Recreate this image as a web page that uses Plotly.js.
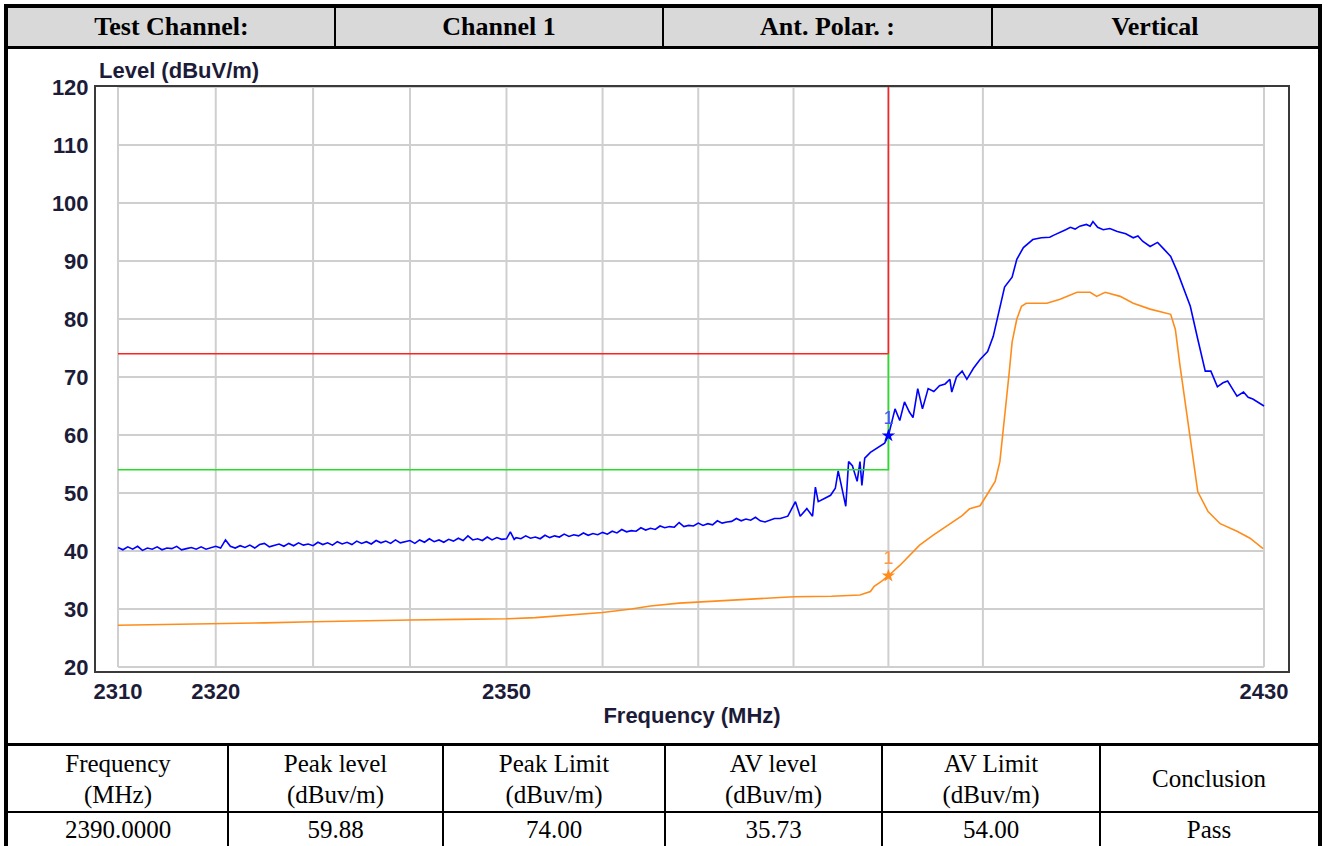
<!DOCTYPE html>
<html>
<head>
<meta charset="utf-8">
<script src="https://cdn.plot.ly/plotly-3.0.1.min.js"></script>
<style>
  html, body { margin:0; padding:0; background:#fff; width:1328px; height:846px; overflow:hidden; }
  .abs { position:absolute; box-sizing:border-box; }
  .serif { font-family:"Times New Roman","Liberation Serif",serif; color:#000; }
  .hdr { font-weight:bold; font-size:26px; display:flex; align-items:center; justify-content:center; }
  .cell { font-size:25px; display:flex; align-items:center; justify-content:center; text-align:center; line-height:31px; }
</style>
</head>
<body>
<div class="abs" style="left:4px;top:4px;width:1318px;height:860px;border:4px solid #000;"></div>
<div class="abs" style="left:8px;top:8px;width:1310px;height:38px;background:#d9d9d9;"></div>
<div class="abs" style="left:8px;top:46px;width:1310px;height:3px;background:#000;"></div>
<div id="hdrcells"></div>
<div id="chart" class="abs" style="left:8px;top:49px;width:1310px;height:694px;"></div>
<div class="abs" style="left:8px;top:743px;width:1310px;height:3px;background:#000;"></div>
<div class="abs" style="left:8px;top:811px;width:1310px;height:2px;background:#000;"></div>
<div id="tblcells"></div>
<script>
// ---------------- header / table text ----------------
const headerTexts = ["Test Channel:", "Channel 1", "Ant. Polar. :", "Vertical"];
const headerEdges = [8, 335, 663, 992, 1318];
const tableHeads = ["Frequency<br>(MHz)", "Peak level<br>(dBuv/m)", "Peak Limit<br>(dBuv/m)", "AV level<br>(dBuv/m)", "AV Limit<br>(dBuv/m)", "Conclusion"];
const tableValues = ["2390.0000", "59.88", "74.00", "35.73", "54.00", "Pass"];
const tableEdges = [8, 228, 443, 665, 882, 1100, 1318];

// ---------------- chart data ----------------
const peakFreq = [2310,2310.5,2311,2311.5,2312,2312.5,2313,2313.5,2314,2314.5,2315,2315.5,2316,2316.5,2317,2317.5,2318,2318.5,2319,2319.5,
  2320,2320.5,2321,2321.5,2322,2322.5,2323,2323.5,2324,2324.5,2325,2325.5,2326,2326.5,2327,2327.5,2328,2328.5,2329,2329.5,
  2330,2330.5,2331,2331.5,2332,2332.5,2333,2333.5,2334,2334.5,2335,2335.5,2336,2336.5,2337,2337.5,2338,2338.5,2339,2339.5,
  2340,2340.5,2341,2341.5,2342,2342.5,2343,2343.5,2344,2344.5,2345,2345.5,2346,2346.5,2347,2347.5,2348,2348.5,2349,2349.5,
  2350,2350.4,2350.8,2351,2351.5,2352,2352.5,2353,2353.5,2354,2354.5,2355,2355.5,2356,2356.5,2357,2357.5,2358,2358.5,2359,2359.5,
  2360,2360.5,2361,2361.5,2362,2362.5,2363,2363.5,2364,2364.5,2365,2365.5,2366,2366.5,2367,2367.5,2368,2368.5,2369,2369.5,
  2370,2370.5,2371,2371.5,2372,2372.5,2373,2373.5,2374,2374.5,2375,2375.5,2376,2376.5,2377,2377.5,2378,
  2378.6,2379.4,2380.2,2380.7,2381.4,2382.0,2382.3,2382.6,2383.2,2383.9,
  2384.4,2384.7,2385.1,2385.5,2385.8,2386.2,2386.7,2387.0,2387.2,2387.5,2388.1,2388.6,2389.1,2389.6,2390.0,2390.7,2391.2,2391.7,
  2392.2,2392.6,2393.1,2393.6,2394.2,2394.8,2395.4,2396.0,2396.5,2396.7,2397.2,2397.8,2398.3,2399.0,2399.7,2400.5,
  2401.1,2401.6,2402.3,2403.1,2403.6,2404.3,2405.3,2406.2,2407.1,2407.6,2408.2,2408.8,2409.3,2409.8,2410.3,2411.0,2411.4,2411.7,2412.2,2412.8,
  2413.5,2414.3,2415.2,2416.0,2416.5,2417.0,2417.8,2418.6,2419.3,2420.0,2420.7,2421.4,2422.1,2422.9,2423.7,2424.3,2425.0,
  2425.6,2426.1,2426.6,2427.1,2427.8,2428.3,2428.8,2429.4,2430];
const peakLevel = [40.6,40.2,40.7,40.3,40.8,40.1,40.5,40.3,40.7,40.2,40.5,40.4,40.8,40.2,40.4,40.6,40.3,40.7,40.3,40.6,
  40.8,40.5,41.9,40.8,40.5,40.9,40.6,41.0,40.5,41.1,41.3,40.7,40.9,41.2,40.8,41.3,40.9,41.4,41.0,41.2,
  40.9,41.5,41.1,41.4,41.0,41.6,41.2,41.5,41.1,41.7,41.3,41.6,41.2,41.8,41.4,41.7,41.3,41.9,41.4,41.6,
  41.8,41.3,41.9,41.5,42.1,41.6,41.9,41.5,42.0,41.7,42.2,41.8,42.6,41.9,42.1,41.8,42.4,41.9,42.3,42.0,
  42.1,43.3,42.0,42.3,42.1,42.6,42.2,42.4,42.1,42.7,42.3,42.6,42.4,42.9,42.5,42.8,42.6,43.1,42.7,43.0,42.8,
  43.2,42.9,43.4,43.1,43.7,43.3,43.5,43.4,44.0,43.6,43.9,43.7,44.3,44.0,44.2,44.1,44.9,44.2,44.4,44.3,
  44.8,44.4,44.7,44.5,45.2,44.8,45.0,45.1,45.6,45.2,45.5,45.3,45.8,45.2,45.0,45.3,45.6,
  45.6,46.0,48.5,46.0,47.3,46.0,51.0,48.5,49.0,49.6,
  50.8,53.8,50.8,47.7,55.4,54.7,52.0,55.4,51.3,56.0,57.0,57.5,58.0,58.6,59.88,64.5,62.5,65.7,
  64.0,63.0,68.0,64.5,68.0,67.5,68.5,68.8,69.6,67.4,70.0,71.0,69.6,71.5,73.0,74.4,
  77.0,80.5,85.5,87.2,90.3,92.3,93.7,94.0,94.1,94.5,94.9,95.4,95.8,95.5,96.0,96.3,96.0,96.8,95.8,95.4,
  95.6,95.1,94.7,94.0,94.3,93.4,92.5,93.2,92.0,90.8,88.2,85.1,82.2,76.5,71.0,71.0,68.3,
  69.0,69.3,68.0,66.7,67.4,66.5,66.2,65.6,65.0];

const avgFreq = [2310,2315,2320,2325,2330,2335,2340,2345,2350,2353,2356,2360,2363,2365,2368,2370,2373,2376,2380,2384,
  2387,2388.1,2388.5,2389.3,2390,2391.2,2393.3,2394.7,2396.2,2397.8,2398.6,2399.7,2400.4,2401.3,2401.8,2402.1,2402.5,2402.8,
  2403.1,2403.6,2404.1,2404.6,2406.8,2408.2,2410.0,2411.4,2412.1,2413.0,2414.6,2416.0,2417.8,2420.0,2420.5,2421.0,
  2421.6,2422.1,2422.9,2424.0,2425.3,2427.1,2428.5,2429.9];
const avgLevel = [27.2,27.3,27.5,27.6,27.8,28.0,28.1,28.2,28.3,28.5,28.9,29.4,30.0,30.5,31.0,31.2,31.5,31.8,32.1,32.2,
  32.4,33.0,33.9,34.8,35.73,37.5,41.0,42.7,44.4,46.1,47.3,47.8,49.6,52.0,55.4,60.5,66.2,70.9,
  76.0,80.0,82.2,82.7,82.7,83.4,84.6,84.6,83.9,84.6,83.9,82.7,81.7,80.8,78.2,71.9,
  65.0,59.3,50.2,46.8,44.7,43.4,42.2,40.4];

const limitFreq = [2310, 2390, 2390];
const peakLimit = [74, 74, 120];
const avLimit = [54, 54, 74];

const markerFreq = [2390];
const markerPeak = [59.88];
const markerAv = [35.73];
const markerText = ["1"];

const gridFreq = [2310,2320,2330,2340,2350,2360,2370,2380,2390,2400,2430];
const gridLevel = [20,30,40,50,60,70,80,90,100,110,120];
const xTickVals = [2310, 2320, 2350, 2430];
const xTickText = ["2310", "2320", "2350", "2430"];
const yTickVals = [20,30,40,50,60,70,80,90,100,110,120];

// ---------------- build tables ----------------
(function(){
  let h = "";
  for (let i = 0; i < headerTexts.length; i++) {
    const l = headerEdges[i], r = headerEdges[i+1];
    h += `<div class="abs serif hdr" style="left:${l}px;top:8px;width:${r-l}px;height:38px;">${headerTexts[i]}</div>`;
    if (i > 0) h += `<div class="abs" style="left:${l-1}px;top:8px;width:2px;height:38px;background:#000;"></div>`;
  }
  document.getElementById("hdrcells").innerHTML = h;
  let t = "";
  for (let i = 0; i < tableHeads.length; i++) {
    const l = tableEdges[i], r = tableEdges[i+1];
    t += `<div class="abs serif cell" style="left:${l}px;top:746px;width:${r-l}px;height:65px;">${tableHeads[i]}</div>`;
    t += `<div class="abs serif cell" style="left:${l}px;top:813px;width:${r-l}px;height:33px;">${tableValues[i]}</div>`;
    if (i > 0) t += `<div class="abs" style="left:${l-1}px;top:746px;width:2px;height:110px;background:#000;"></div>`;
  }
  document.getElementById("tblcells").innerHTML = t;
})();

// ---------------- chart ----------------
const fnt = {family:"Arial, 'Liberation Sans', sans-serif", size:22, color:"#1c1c38", weight:"bold"};
const lo = Math.log10(gridFreq[0]), hi = Math.log10(gridFreq[gridFreq.length-1]);
const dataPx = 1146, padL = 22, padR = 24;
const perPx = (hi - lo) / dataPx;
const xRange = [lo - padL*perPx, hi + padR*perPx];

const shapes = [];
gridFreq.forEach(f => shapes.push({type:"line", xref:"x", yref:"y", x0:f, x1:f, y0:gridLevel[0], y1:gridLevel[gridLevel.length-1], layer:"below", line:{color:"#cfcfcf", width:2}}));
gridLevel.forEach(v => shapes.push({type:"line", xref:"x", yref:"y", x0:gridFreq[0], x1:gridFreq[gridFreq.length-1], y0:v, y1:v, layer:"below", line:{color:"#cfcfcf", width:2}}));

const traces = [
  {x:peakFreq, y:peakLevel, mode:"lines", line:{color:"#0000ff", width:1.6}, hoverinfo:"skip"},
  {x:avgFreq, y:avgLevel, mode:"lines", line:{color:"#ff8c1a", width:1.6}, hoverinfo:"skip"},
  {x:limitFreq, y:peakLimit, mode:"lines", line:{color:"#ff2020", width:1.6}, hoverinfo:"skip"},
  {x:limitFreq, y:avLimit, mode:"lines", line:{color:"#22e022", width:1.6}, hoverinfo:"skip"},
  {x:markerFreq, y:markerPeak, mode:"markers+text", text:markerText, textposition:"top center",
   textfont:{family:"Arial, 'Liberation Sans', sans-serif", size:18, color:"#5050ff"},
   marker:{symbol:"star", size:10, color:"#0000ff"}, hoverinfo:"skip"},
  {x:markerFreq, y:markerAv, mode:"markers+text", text:markerText, textposition:"top center",
   textfont:{family:"Arial, 'Liberation Sans', sans-serif", size:18, color:"#ff9a40"},
   marker:{symbol:"star", size:10, color:"#ff8c1a"}, hoverinfo:"skip"}
];

const layout = {
  width:1310, height:694,
  margin:{l:88, r:30, t:38, b:72, pad:0},
  paper_bgcolor:"#ffffff", plot_bgcolor:"#ffffff",
  showlegend:false,
  xaxis:{type:"log", range:xRange, tickmode:"array", tickvals:xTickVals, ticktext:xTickText,
    showgrid:false, zeroline:false, showline:true, mirror:true, linecolor:"#3a3a3a", linewidth:2,
    ticks:"", tickfont:fnt, title:{text:"Frequency (MHz)", font:fnt, standoff:4}},
  yaxis:{range:[19.3, 120], tickmode:"array", tickvals:yTickVals,
    showgrid:false, zeroline:false, showline:true, mirror:true, linecolor:"#3a3a3a", linewidth:2,
    ticks:"", tickfont:fnt, ticklabelstandoff:1},
  shapes:shapes,
  annotations:[{xref:"paper", yref:"paper", x:0.0, y:1.0, xanchor:"left", yanchor:"bottom", yshift:2, xshift:1,
    text:"Level (dBuV/m)", showarrow:false, font:fnt}]
};

Plotly.newPlot("chart", traces, layout, {staticPlot:true, displayModeBar:false});
</script>
</body>
</html>
